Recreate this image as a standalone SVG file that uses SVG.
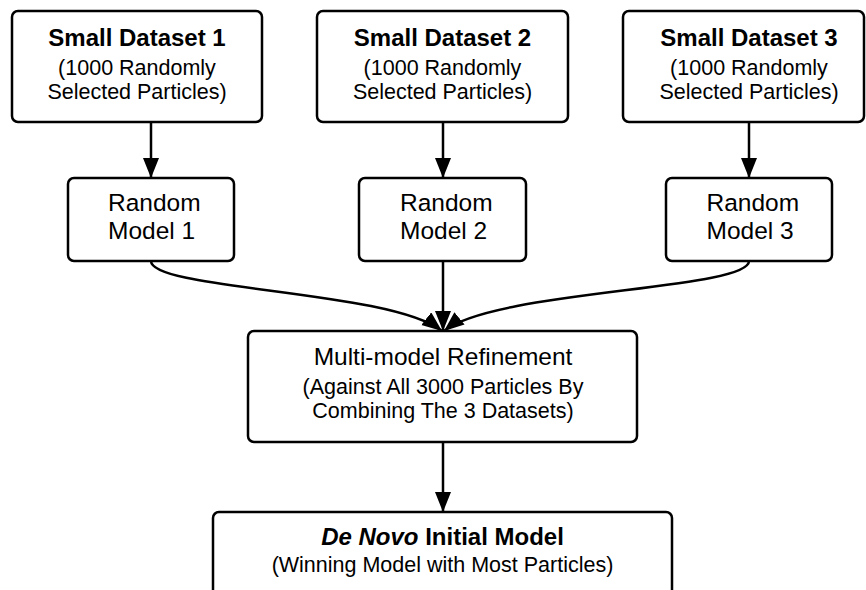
<svg xmlns="http://www.w3.org/2000/svg" width="866" height="590" viewBox="0 0 866 590">
<style>
.box{fill:#fff;stroke:#000;stroke-width:2.5}
.t{font-family:"Liberation Sans",Arial,sans-serif;fill:#000;text-anchor:middle}
.l{text-anchor:start}
.b{font-weight:bold;font-size:24px}
.r{font-size:24.5px}
.s{font-size:21.5px}
.c{fill:none;stroke:#000;stroke-width:2.5}
</style>
<defs>
<marker id="ah" markerUnits="userSpaceOnUse" markerWidth="22" markerHeight="18" refX="20" refY="8" orient="auto" viewBox="0 0 22 18">
<path d="M0,0 L20,8 L0,16 z" fill="#000"/>
</marker>
</defs>
<rect width="866" height="590" fill="#fff"/>
<g id="connectors">
<path class="c" d="M151,122 L151,178" marker-end="url(#ah)"/>
<path class="c" d="M443,122 L443,178" marker-end="url(#ah)"/>
<path class="c" d="M749,122 L749,178" marker-end="url(#ah)"/>
<path class="c" d="M151,261 C151,290 390,290 442,331" marker-end="url(#ah)"/>
<path class="c" d="M443,261 L443,331" marker-end="url(#ah)"/>
<path class="c" d="M749,261 C749,290 494,290 444,331" marker-end="url(#ah)"/>
<path class="c" d="M443,442 L443,512" marker-end="url(#ah)"/>
</g>
<g id="ds1">
<rect class="box" x="12" y="11" width="250" height="111" rx="6"/>
<text class="t b" x="137" y="46">Small Dataset 1</text>
<text class="t s" x="137" y="75">(1000 Randomly</text>
<text class="t s" x="137" y="99">Selected Particles)</text>
</g>
<g id="ds2">
<rect class="box" x="317" y="11" width="251" height="111" rx="6"/>
<text class="t b" x="442.5" y="46">Small Dataset 2</text>
<text class="t s" x="442.5" y="75">(1000 Randomly</text>
<text class="t s" x="442.5" y="99">Selected Particles)</text>
</g>
<g id="ds3">
<rect class="box" x="623" y="11" width="241" height="111" rx="6"/>
<text class="t b" x="749" y="46">Small Dataset 3</text>
<text class="t s" x="749" y="75">(1000 Randomly</text>
<text class="t s" x="749" y="99">Selected Particles)</text>
</g>
<g id="rm1">
<rect class="box" x="68" y="178" width="166" height="83" rx="6"/>
<text class="t r l" x="108" y="211">Random</text>
<text class="t r l" x="108" y="239">Model 1</text>
</g>
<g id="rm2">
<rect class="box" x="359" y="178" width="167" height="83" rx="6"/>
<text class="t r l" x="400" y="211">Random</text>
<text class="t r l" x="400" y="239">Model 2</text>
</g>
<g id="rm3">
<rect class="box" x="666" y="178" width="166" height="83" rx="6"/>
<text class="t r l" x="706.5" y="211">Random</text>
<text class="t r l" x="706.5" y="239">Model 3</text>
</g>
<g id="multi">
<rect class="box" x="248" y="331" width="389" height="111" rx="6"/>
<text class="t r" x="443" y="365">Multi-model Refinement</text>
<text class="t s" x="443" y="394">(Against All 3000 Particles By</text>
<text class="t s" x="443" y="418">Combining The 3 Datasets)</text>
</g>
<g id="denovo">
<rect class="box" x="213" y="512" width="459" height="100" rx="6"/>
<text class="t b" x="442.5" y="545"><tspan font-style="italic">De Novo</tspan> Initial Model</text>
<text class="t s" x="442.5" y="572">(Winning Model with Most Particles)</text>
</g>
</svg>
